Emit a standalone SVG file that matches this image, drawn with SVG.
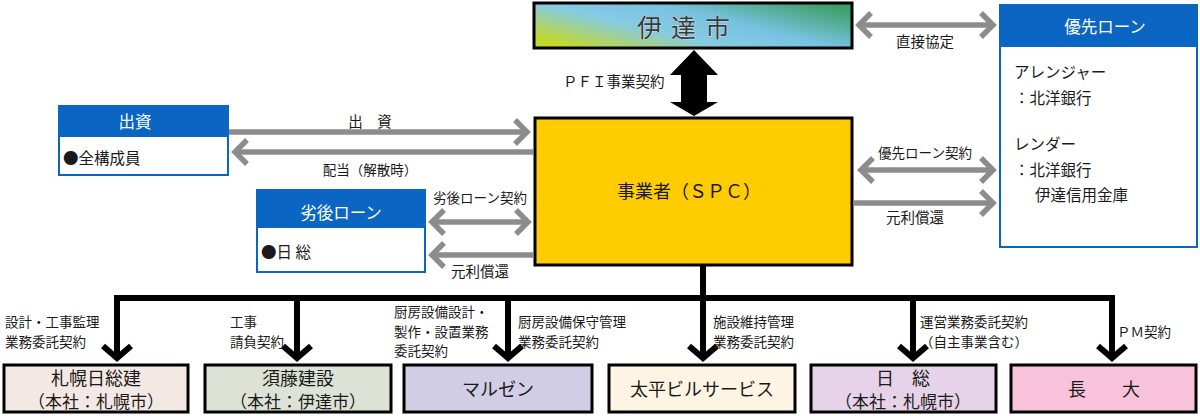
<svg xmlns="http://www.w3.org/2000/svg" width="1200" height="416" viewBox="0 0 1200 416">
<defs>
<linearGradient id="gcity" x1="0" y1="0.8" x2="1" y2="0.2">
<stop offset="0" stop-color="#c4d925"/>
<stop offset="0.36" stop-color="#86cbe2"/>
<stop offset="0.62" stop-color="#78c2e2"/>
<stop offset="0.85" stop-color="#55ae98"/>
<stop offset="1" stop-color="#3f9f6c"/>
</linearGradient>
<marker id="gh" markerUnits="userSpaceOnUse" markerWidth="30" markerHeight="30" refX="0" refY="0" orient="auto-start-reverse" overflow="visible">
<path d="M-12,-12 L0,0 L-12,12" fill="none" stroke="#8c8c8c" stroke-width="5.5"/>
</marker>
<style>
text{font-family:"Noto Sans CJK JP","Noto Sans",sans-serif;fill:#1a1a1a}
.lbl{font-size:14.5px}
.hdr{font-size:16.5px;fill:#ffffff;text-anchor:middle}
.body{font-size:15.5px}
.big{font-size:18px;text-anchor:middle}
.sub{font-size:17px;text-anchor:middle}
.bl{font-size:13.5px}
.garr{stroke:#8c8c8c;stroke-width:5.5;fill:none}
.kb{fill:none;stroke:#000;stroke-width:6}
.box{stroke:#000;stroke-width:3}
.hbox{fill:#fff;stroke:#0a66c2;stroke-width:2}
.hfill{fill:#0a66c2}
</style>
</defs>

<g id="city">
<rect x="534" y="3" width="318" height="45" fill="url(#gcity)" class="box"/>
<text x="688" y="37" style="font-size:25px;letter-spacing:9px;fill:#3a3a3a;stroke:#ffffff;stroke-width:0.6;paint-order:stroke" text-anchor="middle">伊達市</text>
</g>

<g id="spc">
<rect x="535" y="118" width="317" height="147" fill="#ffcc00" class="box"/>
<text x="689" y="198" class="big">事業者（ＳＰＣ）</text>
</g>

<g id="invest">
<rect x="59" y="106" width="169" height="69" class="hbox"/>
<rect x="59" y="106" width="169" height="31" class="hfill"/>
<text x="135" y="128" class="hdr">出資</text>
<text x="63" y="164" class="body">●全構成員</text>
</g>

<g id="subloan">
<rect x="257" y="190" width="168" height="82" class="hbox"/>
<rect x="257" y="190" width="168" height="38" class="hfill"/>
<text x="341" y="219" class="hdr">劣後ローン</text>
<text x="261" y="258" class="body">●日 総</text>
</g>

<g id="seniorloan">
<rect x="1000" y="5" width="197" height="242" class="hbox"/>
<rect x="1000" y="5" width="197" height="42" class="hfill"/>
<text x="1105" y="33" class="hdr">優先ローン</text>
<text x="1014" y="78" class="body">アレンジャー</text>
<text x="1014" y="104" class="body">：北洋銀行</text>
<text x="1014" y="150" class="body">レンダー</text>
<text x="1014" y="176" class="body">：北洋銀行</text>
<text x="1035" y="201" class="body">伊達信用金庫</text>
</g>

<g id="c1">
<rect x="4" y="365" width="184" height="47" fill="#f3e8e3" class="box"/>
<text x="96" y="385" class="sub" style="font-size:18px">札幌日総建</text>
<text x="96" y="408" class="sub">（本社：札幌市）</text>
</g>
<g id="c2">
<rect x="205" y="365" width="186" height="47" fill="#dce3d6" class="box"/>
<text x="298" y="385" class="sub" style="font-size:18px">須藤建設</text>
<text x="298" y="408" class="sub">（本社：伊達市）</text>
</g>
<g id="c3">
<rect x="404" y="365" width="188" height="47" fill="#d0cde5" class="box"/>
<text x="498" y="396" class="big">マルゼン</text>
</g>
<g id="c4">
<rect x="609" y="365" width="186" height="47" fill="#fef4e3" class="box"/>
<text x="702" y="396" class="big">太平ビルサービス</text>
</g>
<g id="c5">
<rect x="811" y="365" width="185" height="47" fill="#e6d3e9" class="box"/>
<text x="903" y="385" class="sub" style="font-size:18px">日　総</text>
<text x="903" y="408" class="sub">（本社：札幌市）</text>
</g>
<g id="c6">
<rect x="1011" y="365" width="185" height="47" fill="#f7c2da" class="box"/>
<text x="1104" y="396" class="big">長　　大</text>
</g>

<g id="connectors">
<polygon points="694,50 718,75 707,75 707,102 718,102 694,116 670,102 681,102 681,75 670,75" fill="#000"/>
<text x="563" y="87" class="lbl">ＰＦＩ事業契約</text>

<line x1="859" y1="25" x2="993" y2="25" class="garr" marker-start="url(#gh)" marker-end="url(#gh)"/>
<text x="925" y="47" class="lbl" text-anchor="middle">直接協定</text>

<line x1="229" y1="132" x2="527" y2="132" class="garr" marker-end="url(#gh)"/>
<text x="370" y="127" class="lbl" text-anchor="middle">出　資</text>
<line x1="533" y1="152" x2="235" y2="152" class="garr" marker-end="url(#gh)"/>
<text x="370" y="175" class="lbl" text-anchor="middle" style="font-size:13.5px">配当（解散時）</text>

<line x1="432" y1="222" x2="528" y2="222" class="garr" marker-start="url(#gh)" marker-end="url(#gh)"/>
<text x="480" y="203" class="lbl" text-anchor="middle" style="font-size:13.5px">劣後ローン契約</text>
<line x1="533" y1="255" x2="432" y2="255" class="garr" marker-end="url(#gh)"/>
<text x="480" y="277" class="lbl" text-anchor="middle">元利償還</text>

<line x1="861" y1="170" x2="993" y2="170" class="garr" marker-start="url(#gh)" marker-end="url(#gh)"/>
<text x="925" y="158" class="lbl" text-anchor="middle" style="font-size:13.5px">優先ローン契約</text>
<line x1="853" y1="203" x2="993" y2="203" class="garr" marker-end="url(#gh)"/>
<text x="915" y="223" class="lbl" text-anchor="middle">元利償還</text>

<line x1="703" y1="265" x2="703" y2="298" class="kb"/>
<polyline points="117,357 117,298 1112,298 1112,357" class="kb"/>
<line x1="297" y1="298" x2="297" y2="357" class="kb"/>
<line x1="508" y1="298" x2="508" y2="357" class="kb"/>
<line x1="703" y1="298" x2="703" y2="357" class="kb"/>
<line x1="913" y1="298" x2="913" y2="357" class="kb"/>
<polyline points="103,346 117,358 131,346" class="kb"/>
<polyline points="283,346 297,358 311,346" class="kb"/>
<polyline points="494,346 508,358 522,346" class="kb"/>
<polyline points="689,346 703,358 717,346" class="kb"/>
<polyline points="899,346 913,358 927,346" class="kb"/>
<polyline points="1098,346 1112,358 1126,346" class="kb"/>

<text x="5" y="327" class="bl">設計・工事監理</text>
<text x="5" y="346.5" class="bl">業務委託契約</text>
<text x="230" y="327" class="bl">工事</text>
<text x="230" y="346.5" class="bl">請負契約</text>
<text x="394" y="317" class="bl">厨房設備設計・</text>
<text x="394" y="336.5" class="bl">製作・設置業務</text>
<text x="394" y="356" class="bl">委託契約</text>
<text x="518" y="327" class="bl">厨房設備保守管理</text>
<text x="518" y="346.5" class="bl">業務委託契約</text>
<text x="713" y="327" class="bl">施設維持管理</text>
<text x="713" y="346.5" class="bl">業務委託契約</text>
<text x="920" y="327" class="bl">運営業務委託契約</text>
<text x="920" y="346.5" class="bl">（自主事業含む）</text>
<text x="1117" y="337" class="bl">ＰＭ契約</text>
</g>
</svg>
